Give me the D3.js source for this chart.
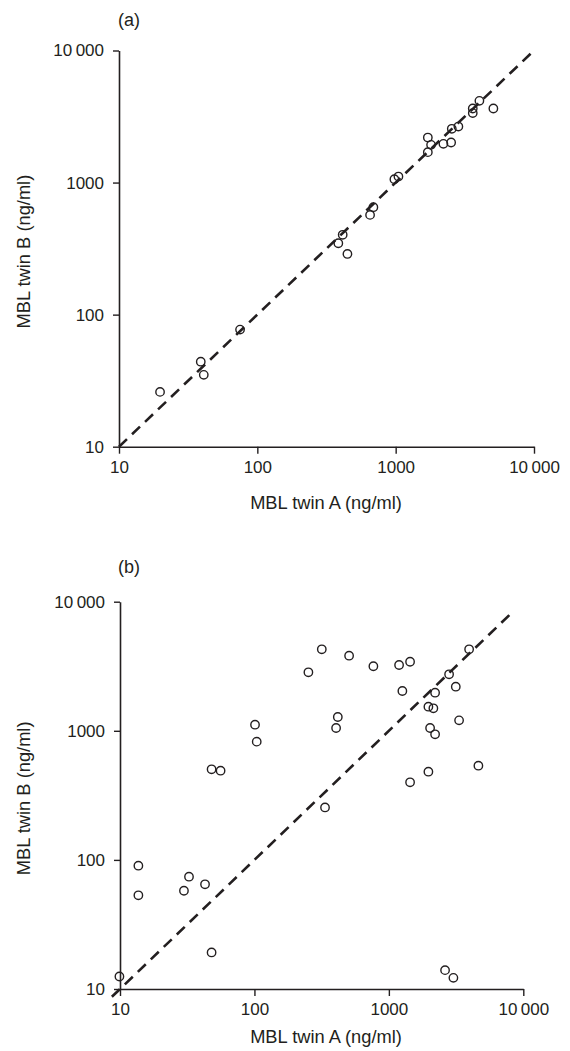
<!DOCTYPE html>
<html>
<head>
<meta charset="utf-8">
<script src="https://cdn.jsdelivr.net/npm/d3@7/dist/d3.min.js"></script>
<style>
  body { margin: 0; background: #fff; }
  text { font-family: "Liberation Sans", Arial, sans-serif; fill: #231f20; }
</style>
</head>
<body>
<svg id="chart"></svg>
<script>
// MBL levels, twin A vs twin B (ng/ml)
var tickVals = [10, 100, 1000, 10000];
var tickText = ["10", "100", "1000", "10\u2009000"];

// panel (a)
var aTwinA = [19.8, 39, 41, 75, 385, 414, 448, 653, 690, 979, 1047, 1708, 1803, 1708, 2213, 2517, 2545, 2840, 3608, 3608, 4030, 5085];
var aTwinB = [26, 44, 35, 77, 347, 402, 288, 569, 651, 1061, 1110, 2193, 1930, 1700, 1964, 2010, 2552, 2656, 3637, 3357, 4156, 3637];
var aLine = [10, 9500];

// panel (b)
var bTwinA = [317, 506, 252, 767, 1191, 1438, 3953, 2805, 3146, 1260, 2207, 1968, 2143, 417, 405, 2026, 2207, 3329, 101, 104, 48, 56, 1968, 1438, 4634, 335, 13.7, 13.7, 32.6, 29.9, 42.9, 48, 9.9, 2618, 3020];
var bTwinB = [4277, 3816, 2838, 3162, 3235, 3428, 4277, 2740, 2197, 2033, 1973, 1537, 1494, 1279, 1051, 1051, 939, 1205, 1115, 824, 503, 491, 482, 399, 537, 255, 90.2, 53.2, 74.1, 57.7, 64.7, 19.2, 12.5, 14.0, 12.2];
var bLine = [8.7, 8400];

var xTitle = "MBL twin A (ng/ml)";
var yTitle = "MBL twin B (ng/ml)";

var svg = d3.select("#chart").attr("width", 570).attr("height", 1051);

drawPanel({ tag: "(a)", xs: aTwinA, ys: aTwinB, line: aLine,
  left: 119, right: 534, bottom: 446.7, top: 50.5, tagY: 26, xTitleY: 509 });
drawPanel({ tag: "(b)", xs: bTwinA, ys: bTwinB, line: bLine,
  left: 120, right: 523.3, bottom: 989, top: 601.7, tagY: 573, xTitleY: 1043 });

function drawPanel(p) {
  var x = d3.scaleLog().domain([10, 10000]).range([p.left, p.right]);
  var y = d3.scaleLog().domain([10, 10000]).range([p.bottom, p.top]);
  var g = svg.append("g");

  var xAxis = g.append("g")
    .attr("transform", "translate(0," + p.bottom + ")")
    .call(d3.axisBottom(x).tickValues(tickVals)
      .tickFormat(function(d, i) { return tickText[i]; })
      .tickSize(7).tickSizeOuter(0).tickPadding(7));

  var yAxis = g.append("g")
    .attr("transform", "translate(" + p.left + ",0)")
    .call(d3.axisLeft(y).tickValues(tickVals)
      .tickFormat(function(d, i) { return tickText[i]; })
      .tickSize(6).tickSizeOuter(0).tickPadding(9));

  [xAxis, yAxis].forEach(function(ax) {
    ax.select(".domain").attr("stroke", "#231f20").attr("stroke-width", 1.6);
    ax.selectAll(".tick line").attr("stroke", "#231f20").attr("stroke-width", 1.4);
    ax.selectAll(".tick text").style("font-size", "17px")
      .style("font-family", "'Liberation Sans', Arial, sans-serif").attr("fill", "#231f20");
  });

  // line of identity
  g.append("line")
    .attr("x1", x(p.line[0])).attr("y1", y(p.line[0]))
    .attr("x2", x(p.line[1])).attr("y2", y(p.line[1]))
    .attr("stroke", "#231f20")
    .attr("stroke-width", 2.6)
    .attr("stroke-dasharray", "11,7");

  g.selectAll("circle.pt")
    .data(p.xs.map(function(v, i) { return { a: v, b: p.ys[i] }; }))
    .enter().append("circle")
    .attr("class", "pt")
    .attr("cx", function(d) { return x(d.a); })
    .attr("cy", function(d) { return y(d.b); })
    .attr("r", 4.2)
    .attr("fill", "none")
    .attr("stroke", "#231f20")
    .attr("stroke-width", 1.4);

  g.append("text")
    .attr("x", 118).attr("y", p.tagY)
    .style("font-size", "18px")
    .text(p.tag);

  g.append("text")
    .attr("x", 326)
    .attr("y", p.xTitleY)
    .attr("text-anchor", "middle")
    .style("font-size", "18.3px")
    .text(xTitle);

  g.append("text")
    .attr("transform", "translate(30," + ((p.top + p.bottom) / 2 + 3) + ") rotate(-90)")
    .attr("text-anchor", "middle")
    .style("font-size", "18.3px")
    .text(yTitle);
}
</script>
</body>
</html>
